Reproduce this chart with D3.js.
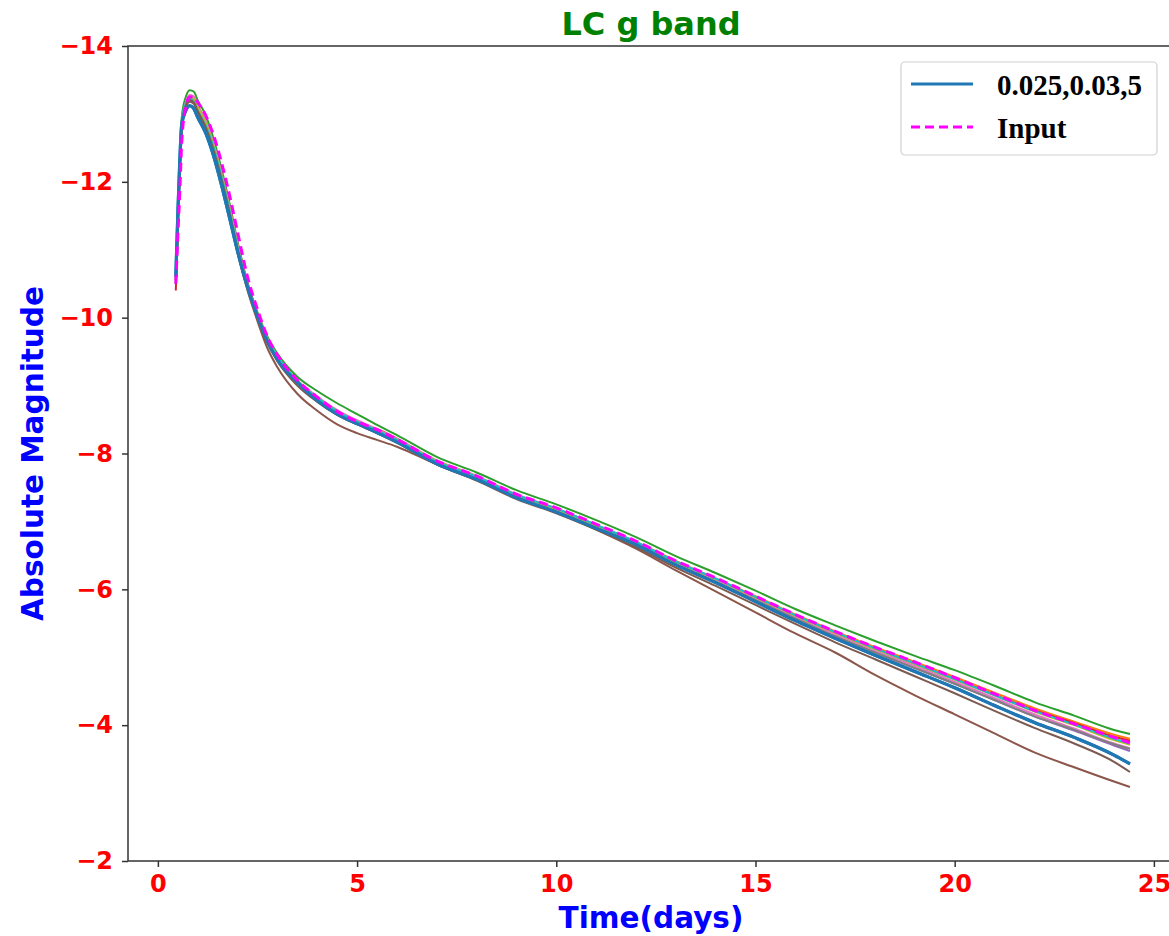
<!DOCTYPE html>
<html>
<head>
<meta charset="utf-8">
<script src="https://cdn.jsdelivr.net/npm/d3@7"></script>
<style>
  html, body { margin: 0; padding: 0; background: #fff; }
  svg { display: block; }
</style>
</head>
<body>
<div id="chart"></div>
<script>
// ---------------- data ----------------
const time = [0.45,0.5,0.55,0.6,0.7,0.8,0.9,1.0,1.2,1.4,1.6,1.8,2.0,2.25,2.5,2.75,3,3.5,4,4.5,5,5.5,6,7,8,9,10,11,12,13,14,15,16,17,18,19,20,21,22,23,24,24.4];

const inputMag = [-10.5,-11.2,-11.85,-12.6,-13.1,-13.25,-13.25,-13.17,-12.98,-12.68,-12.28,-11.8,-11.26,-10.6,-10.12,-9.72,-9.45,-9.08,-8.83,-8.62,-8.47,-8.35,-8.21,-7.89,-7.67,-7.40,-7.20,-6.96,-6.71,-6.42,-6.17,-5.90,-5.63,-5.38,-5.15,-4.93,-4.70,-4.46,-4.22,-4.02,-3.82,-3.74];

const runBlue   = [-10.6,-11.5,-12.3,-12.85,-13.05,-13.12,-13.08,-12.95,-12.72,-12.38,-11.95,-11.47,-10.98,-10.45,-10.02,-9.65,-9.38,-9.05,-8.78,-8.58,-8.44,-8.31,-8.17,-7.85,-7.62,-7.35,-7.14,-6.90,-6.66,-6.36,-6.10,-5.82,-5.54,-5.28,-5.03,-4.79,-4.55,-4.29,-4.04,-3.82,-3.56,-3.43];
const runOrange = [-10.55,-11.4,-12.2,-12.85,-13.15,-13.27,-13.25,-13.12,-12.9,-12.56,-12.13,-11.64,-11.1,-10.5,-10.05,-9.68,-9.42,-9.07,-8.82,-8.63,-8.47,-8.35,-8.2,-7.89,-7.66,-7.39,-7.19,-6.95,-6.70,-6.42,-6.16,-5.90,-5.63,-5.38,-5.15,-4.93,-4.71,-4.48,-4.25,-4.05,-3.86,-3.80];
const runGreen  = [-10.5,-11.4,-12.25,-12.95,-13.25,-13.35,-13.33,-13.2,-12.98,-12.63,-12.18,-11.68,-11.12,-10.52,-10.08,-9.72,-9.47,-9.13,-8.92,-8.74,-8.58,-8.42,-8.27,-7.95,-7.72,-7.46,-7.25,-7.02,-6.77,-6.49,-6.24,-5.98,-5.71,-5.47,-5.24,-5.02,-4.81,-4.58,-4.34,-4.14,-3.93,-3.87];
const runRed    = [-10.4,-11.3,-12.15,-12.8,-13.12,-13.22,-13.2,-13.08,-12.86,-12.52,-12.09,-11.6,-11.06,-10.48,-10.04,-9.68,-9.42,-9.06,-8.8,-8.6,-8.45,-8.36,-8.22,-7.88,-7.64,-7.38,-7.17,-6.94,-6.69,-6.4,-6.14,-5.87,-5.6,-5.35,-5.12,-4.9,-4.68,-4.45,-4.22,-4.03,-3.83,-3.77];
const runPurple = [-10.55,-11.45,-12.22,-12.82,-13.1,-13.2,-13.17,-13.05,-12.82,-12.48,-12.05,-11.56,-11.03,-10.47,-10.03,-9.66,-9.4,-9.04,-8.8,-8.6,-8.45,-8.32,-8.19,-7.87,-7.64,-7.37,-7.16,-6.92,-6.67,-6.38,-6.12,-5.85,-5.57,-5.31,-5.07,-4.84,-4.61,-4.37,-4.13,-3.92,-3.70,-3.62];
const runBrown  = [-10.5,-11.4,-12.2,-12.82,-13.1,-13.18,-13.15,-13.02,-12.78,-12.43,-11.99,-11.5,-10.96,-10.4,-9.95,-9.55,-9.27,-8.88,-8.63,-8.43,-8.3,-8.2,-8.1,-7.84,-7.62,-7.36,-7.14,-6.88,-6.6,-6.28,-5.97,-5.66,-5.35,-5.07,-4.74,-4.44,-4.16,-3.88,-3.6,-3.38,-3.17,-3.09];
const runPink   = [-10.55,-11.45,-12.25,-12.88,-13.17,-13.28,-13.26,-13.13,-12.9,-12.56,-12.12,-11.63,-11.08,-10.49,-10.05,-9.69,-9.44,-9.08,-8.84,-8.64,-8.49,-8.36,-8.22,-7.9,-7.67,-7.4,-7.19,-6.95,-6.69,-6.4,-6.14,-5.87,-5.6,-5.34,-5.1,-4.87,-4.64,-4.4,-4.16,-3.95,-3.73,-3.66];
const runGray   = [-10.55,-11.45,-12.22,-12.85,-13.12,-13.22,-13.2,-13.08,-12.85,-12.5,-12.07,-11.58,-11.04,-10.45,-10.02,-9.67,-9.41,-9.06,-8.81,-8.61,-8.46,-8.33,-8.19,-7.87,-7.64,-7.37,-7.16,-6.92,-6.67,-6.38,-6.11,-5.84,-5.57,-5.31,-5.07,-4.84,-4.61,-4.37,-4.13,-3.93,-3.72,-3.65];
const runOlive  = [-10.55,-11.42,-12.2,-12.85,-13.14,-13.24,-13.22,-13.1,-12.87,-12.53,-12.1,-11.61,-11.06,-10.47,-10.04,-9.68,-9.43,-9.07,-8.82,-8.62,-8.47,-8.34,-8.2,-7.89,-7.66,-7.39,-7.18,-6.94,-6.69,-6.4,-6.15,-5.88,-5.61,-5.36,-5.12,-4.9,-4.67,-4.44,-4.2,-4.0,-3.78,-3.71];
const runCyan   = [-10.6,-11.55,-12.35,-12.9,-13.15,-13.22,-13.18,-13.05,-12.83,-12.5,-12.07,-11.58,-11.04,-10.47,-10.04,-9.68,-9.43,-9.07,-8.82,-8.62,-8.47,-8.34,-8.2,-7.88,-7.66,-7.39,-7.19,-6.95,-6.7,-6.41,-6.16,-5.89,-5.62,-5.37,-5.13,-4.91,-4.68,-4.44,-4.21,-4.01,-3.8,-3.73];
const runBrown2 = [-10.55,-11.45,-12.22,-12.85,-13.12,-13.2,-13.17,-13.04,-12.8,-12.46,-12.03,-11.54,-11.0,-10.44,-10.0,-9.63,-9.36,-9.0,-8.76,-8.57,-8.43,-8.3,-8.16,-7.84,-7.6,-7.33,-7.12,-6.88,-6.62,-6.32,-6.05,-5.77,-5.49,-5.22,-4.97,-4.72,-4.47,-4.21,-3.96,-3.73,-3.46,-3.31];

const xTicks = [0, 5, 10, 15, 20, 25];
const yTicks = [-14, -12, -10, -8, -6, -4, -2];
const legendLabels = ["0.025,0.03,5", "Input"];

// run series, drawing order and colours
const runs = [
  { name: "blue",   values: runBlue,   color: "#1f77b4", width: 3.2 },
  { name: "orange", values: runOrange, color: "#ff7f0e", width: 2 },
  { name: "green",  values: runGreen,  color: "#2ca02c", width: 2 },
  { name: "red",    values: runRed,    color: "#d62728", width: 2 },
  { name: "purple", values: runPurple, color: "#9467bd", width: 2 },
  { name: "brown",  values: runBrown,  color: "#8c564b", width: 2 },
  { name: "pink",   values: runPink,   color: "#e377c2", width: 2 },
  { name: "gray",   values: runGray,   color: "#7f7f7f", width: 2 },
  { name: "olive",  values: runOlive,  color: "#bcbd22", width: 2 },
  { name: "cyan",   values: runCyan,   color: "#17becf", width: 2 },
  { name: "brown2", values: runBrown2, color: "#7d5a50", width: 2 },
  { name: "blue2",  values: runBlue,   color: "#1f77b4", width: 3.2 }
];

// ---------------- layout ----------------
const W = 1169, H = 936;
const plot = { left: 128, top: 46, bottom: 861 };
const x = d3.scaleLinear().domain([-0.75, 25.6]).range([plot.left, plot.left + 26.35 * 39.84]);
const y = d3.scaleLinear().domain([-2, -14]).range([plot.bottom, plot.top]);

const svg = d3.select("#chart").append("svg")
  .attr("width", W).attr("height", H)
  .attr("viewBox", `0 0 ${W} ${H}`);

svg.append("defs").append("clipPath").attr("id", "clip")
  .append("rect")
  .attr("x", x.range()[0]).attr("y", plot.top)
  .attr("width", x.range()[1] - x.range()[0])
  .attr("height", plot.bottom - plot.top);

const line = d3.line()
  .x((d, i) => x(time[i]))
  .y(d => y(d))
  .curve(d3.curveMonotoneX);

const gLines = svg.append("g").attr("clip-path", "url(#clip)");

runs.forEach(r => {
  gLines.append("path")
    .datum(r.values)
    .attr("d", line)
    .attr("fill", "none")
    .attr("stroke", r.color)
    .attr("stroke-width", r.width)
    .attr("stroke-linejoin", "round")
    .attr("stroke-linecap", "butt");
});

gLines.append("path")
  .datum(inputMag)
  .attr("d", line)
  .attr("fill", "none")
  .attr("stroke", "#ff00ff")
  .attr("stroke-width", 3)
  .attr("stroke-dasharray", "9,5");

// ---------------- axes ----------------
const tickFont = "'DejaVu Sans', sans-serif";

const xAxis = svg.append("g")
  .attr("transform", `translate(0,${plot.bottom})`)
  .call(d3.axisBottom(x).tickValues(xTicks).tickSize(6).tickPadding(8).tickFormat(d3.format("d")));
xAxis.select(".domain").remove();
xAxis.selectAll(".tick line").attr("stroke", "#333").attr("stroke-width", 1.5);
xAxis.selectAll(".tick text")
  .attr("fill", "#ff0000").attr("font-family", tickFont)
  .attr("font-weight", "bold").attr("font-size", 24);

const yAxis = svg.append("g")
  .attr("transform", `translate(${plot.left},0)`)
  .call(d3.axisLeft(y).tickValues(yTicks).tickSize(6).tickPadding(9)
    .tickFormat(d => (d < 0 ? "\u2212" : "") + Math.abs(d)));
yAxis.select(".domain").remove();
yAxis.selectAll(".tick line").attr("stroke", "#333").attr("stroke-width", 1.5);
yAxis.selectAll(".tick text")
  .attr("fill", "#ff0000").attr("font-family", tickFont)
  .attr("font-weight", "bold").attr("font-size", 24);

// spines (right spine falls outside the picture)
const xr = x.range();
svg.append("rect")
  .attr("x", xr[0]).attr("y", plot.top)
  .attr("width", xr[1] - xr[0]).attr("height", plot.bottom - plot.top)
  .attr("fill", "none").attr("stroke", "#333").attr("stroke-width", 1.5);

// ---------------- labels ----------------
svg.append("text")
  .attr("x", 651).attr("y", 35)
  .attr("text-anchor", "middle")
  .attr("font-family", tickFont).attr("font-weight", "bold")
  .attr("font-size", 32).attr("fill", "#008000")
  .text("LC g band");

svg.append("text")
  .attr("x", 651).attr("y", 928)
  .attr("text-anchor", "middle")
  .attr("font-family", tickFont).attr("font-weight", "bold")
  .attr("font-size", 29.5).attr("fill", "#0000ff")
  .text("Time(days)");

svg.append("text")
  .attr("transform", `translate(43,${(plot.top + plot.bottom) / 2}) rotate(-90)`)
  .attr("text-anchor", "middle")
  .attr("font-family", tickFont).attr("font-weight", "bold")
  .attr("font-size", 29.5).attr("fill", "#0000ff")
  .text("Absolute Magnitude");

// ---------------- legend ----------------
const lg = svg.append("g");
lg.append("rect")
  .attr("x", 901).attr("y", 62).attr("width", 256).attr("height", 93)
  .attr("rx", 4).attr("fill", "#fff")
  .attr("stroke", "#d0d0d0").attr("stroke-width", 1.2);

const legendItems = [
  { label: legendLabels[0], color: "#1f77b4", dash: null, width: 3, ly: 84 },
  { label: legendLabels[1], color: "#ff00ff", dash: "9,5", width: 3, ly: 127 }
];
legendItems.forEach(it => {
  lg.append("line")
    .attr("x1", 911).attr("x2", 973).attr("y1", it.ly).attr("y2", it.ly)
    .attr("stroke", it.color).attr("stroke-width", it.width)
    .attr("stroke-dasharray", it.dash);
  lg.append("text")
    .attr("x", 997).attr("y", it.ly + 11)
    .attr("font-family", "'Liberation Serif', 'Times New Roman', serif")
    .attr("font-weight", "bold").attr("font-size", 29).attr("fill", "#000")
    .text(it.label);
});
</script>
</body>
</html>
